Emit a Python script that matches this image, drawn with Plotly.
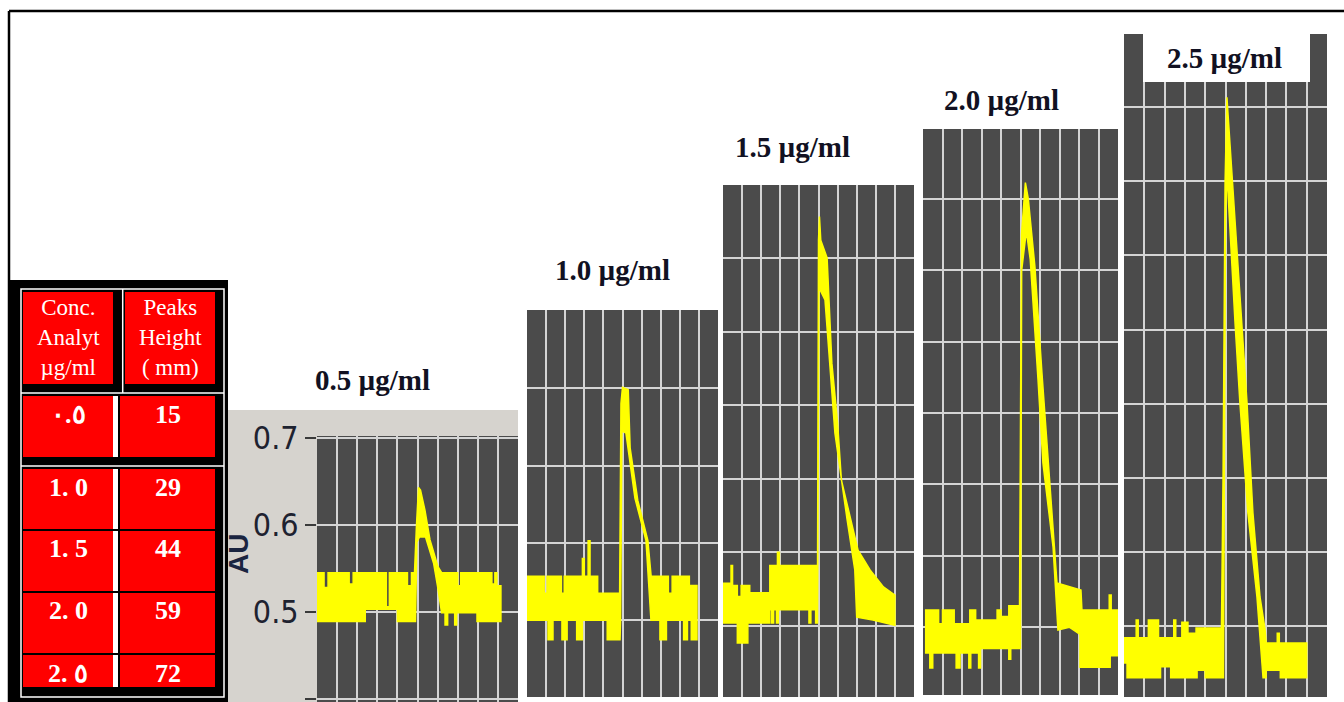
import plotly.graph_objects as go

W, H = 1344, 702

# ---------------- data ----------------
conc_labels = ["٠.٥", "1. 0", "1. 5", "2. 0", "2. ٥"]
peak_heights = [15, 29, 44, 59, 72]
header_left = "Conc.<br>Analyt<br>µg/ml"
header_right = "Peaks<br>Height<br>( mm)"
panel_titles = ["0.5 µg/ml", "1.0 µg/ml", "1.5 µg/ml", "2.0 µg/ml", "2.5 µg/ml"]
au_ticks = [0.4, 0.5, 0.6, 0.7]
au_ticktext = ["0.4", "0.5", "0.6", "0.7"]

# signal envelopes: (time division, AU)
p1_upper = [(0.0, 0.545), (0.35, 0.545), (0.35, 0.528), (0.55, 0.528), (0.55, 0.545), (1.6, 0.545), (1.6, 0.532),
            (1.8, 0.532), (1.8, 0.545), (3.45, 0.545), (3.45, 0.506), (3.6, 0.506), (3.6, 0.545), (4.5, 0.545),
            (4.5, 0.53), (4.7, 0.53), (4.7, 0.545), (4.85, 0.545), (4.95, 0.6), (5.05, 0.643), (5.15, 0.64),
            (5.37, 0.617), (5.62, 0.583), (6.02, 0.552), (6.2, 0.545), (7.0, 0.545), (7.0, 0.53), (7.15, 0.53),
            (7.15, 0.545), (8.7, 0.545), (8.7, 0.532), (8.85, 0.532), (8.85, 0.545), (8.95, 0.545), (8.95, 0.53),
            (9.15, 0.53)]
p1_lower = [(0.0, 0.489), (2.4, 0.489), (2.4, 0.503), (4.0, 0.503), (4.0, 0.489), (4.9, 0.489), (4.97, 0.58),
            (5.1, 0.586), (5.4, 0.586), (5.8, 0.556), (6.0, 0.529), (6.2, 0.499), (6.37, 0.499), (6.37, 0.485),
            (6.5, 0.485), (6.5, 0.499), (6.85, 0.499), (6.85, 0.485), (6.95, 0.485), (6.95, 0.499), (7.96, 0.499),
            (7.96, 0.489), (9.15, 0.489)]

p2_upper = [(0.0, 0.557), (0.9, 0.557), (0.9, 0.535), (1.05, 0.535), (1.05, 0.557), (1.8, 0.557), (1.8, 0.535),
            (1.95, 0.535), (1.95, 0.557), (2.9, 0.557), (2.9, 0.58), (3.0, 0.58), (3.0, 0.557), (3.2, 0.557),
            (3.2, 0.603), (3.3, 0.603), (3.3, 0.557), (3.7, 0.557), (3.7, 0.535), (4.85, 0.535), (4.92, 0.78),
            (5.0, 0.801), (5.3, 0.798), (5.4, 0.723), (5.8, 0.655), (6.33, 0.603), (6.5, 0.557), (7.4, 0.557),
            (7.4, 0.535), (7.6, 0.535), (7.6, 0.557), (8.5, 0.557), (8.5, 0.545), (8.9, 0.545)]
p2_lower = [(0.0, 0.5), (1.1, 0.5), (1.1, 0.475), (1.36, 0.475), (1.36, 0.5), (1.83, 0.5), (1.83, 0.475),
            (2.1, 0.475), (2.1, 0.5), (2.6, 0.5), (2.6, 0.475), (2.9, 0.475), (2.9, 0.5), (4.2, 0.5), (4.2, 0.475),
            (4.87, 0.475), (4.9, 0.5), (4.97, 0.745), (5.18, 0.742), (5.65, 0.658), (6.23, 0.603), (6.49, 0.5),
            (6.96, 0.5), (6.96, 0.475), (7.3, 0.475), (7.3, 0.5), (8.2, 0.5), (8.2, 0.475), (8.4, 0.475),
            (8.4, 0.5), (8.6, 0.5), (8.6, 0.475), (8.9, 0.475)]

p3_upper = [(0.0, 0.558), (0.42, 0.558), (0.42, 0.582), (0.5, 0.582), (0.5, 0.555), (0.75, 0.555), (0.75, 0.54),
            (0.95, 0.54), (0.95, 0.555), (1.4, 0.555), (1.4, 0.545), (2.45, 0.545), (2.45, 0.582), (2.85, 0.582),
            (2.85, 0.6), (2.95, 0.6), (2.95, 0.582), (4.95, 0.582), (5.0, 1.024), (5.05, 1.056), (5.12, 1.024),
            (5.45, 1.0), (5.7, 0.857), (6.0, 0.776), (6.2, 0.698), (7.07, 0.603), (7.7, 0.576), (8.4, 0.553),
            (9.0, 0.542)]
p3_lower = [(0.0, 0.504), (0.75, 0.504), (0.75, 0.477), (1.3, 0.477), (1.3, 0.504), (2.45, 0.504), (2.45, 0.522),
            (2.55, 0.522), (2.55, 0.504), (2.65, 0.504), (2.65, 0.522), (2.8, 0.522), (2.8, 0.504), (2.9, 0.504),
            (2.9, 0.522), (4.5, 0.522), (4.5, 0.504), (4.6, 0.504), (4.6, 0.522), (4.85, 0.522), (4.85, 0.504),
            (4.95, 0.504), (5.02, 0.96), (5.34, 0.943), (5.86, 0.762), (6.5, 0.644), (6.9, 0.576), (7.0, 0.512),
            (7.85, 0.508), (9.0, 0.501)]

p4_upper = [(0.1, 0.524), (0.8, 0.524), (0.8, 0.505), (1.0, 0.505), (1.0, 0.524), (1.6, 0.524), (1.6, 0.505),
            (2.4, 0.505), (2.4, 0.524), (2.7, 0.524), (2.7, 0.51), (3.8, 0.51), (3.8, 0.524), (4.0, 0.524),
            (4.0, 0.515), (4.4, 0.515), (4.4, 0.53), (4.95, 0.53), (5.05, 1.05), (5.25, 1.123), (5.4, 1.1),
            (5.74, 1.005), (6.1, 0.856), (6.36, 0.752), (6.6, 0.66), (6.87, 0.562), (8.1, 0.552), (8.15, 0.524),
            (9.55, 0.524), (9.55, 0.545), (9.65, 0.545), (9.65, 0.524), (10.0, 0.524)]
p4_lower = [(0.1, 0.464), (0.35, 0.464), (0.35, 0.443), (0.5, 0.443), (0.5, 0.464), (1.7, 0.464), (1.7, 0.443),
            (1.9, 0.443), (1.9, 0.464), (2.35, 0.464), (2.35, 0.443), (2.45, 0.443), (2.45, 0.464), (2.85, 0.464),
            (2.85, 0.443), (2.95, 0.443), (2.95, 0.47), (4.4, 0.47), (4.4, 0.455), (4.5, 0.455), (4.5, 0.47),
            (5.0, 0.47), (5.06, 1.0), (5.3, 1.055), (5.5, 1.015), (5.9, 0.846), (6.15, 0.73), (6.67, 0.612),
            (6.92, 0.496), (7.5, 0.5), (8.05, 0.49), (8.05, 0.444), (9.6, 0.444), (9.6, 0.46), (10.0, 0.46)]

p5_upper = [(0.0, 0.484), (0.6, 0.484), (0.6, 0.508), (0.7, 0.508), (0.7, 0.484), (1.2, 0.484), (1.2, 0.508),
            (1.7, 0.508), (1.7, 0.484), (2.45, 0.484), (2.45, 0.508), (2.55, 0.508), (2.55, 0.484), (2.85, 0.484),
            (2.85, 0.505), (3.15, 0.505), (3.15, 0.49), (3.55, 0.49), (3.55, 0.497), (4.8, 0.497), (4.88, 0.7),
            (4.98, 1.1), (5.07, 1.2135), (5.32, 1.112), (5.81, 0.909), (6.06, 0.801), (6.35, 0.653), (6.7, 0.539),
            (6.95, 0.495), (7.0, 0.477), (7.55, 0.477), (7.55, 0.49), (7.65, 0.49), (7.65, 0.477), (9.0, 0.477)]
p5_lower = [(0.0, 0.45), (0.15, 0.45), (0.15, 0.43), (1.8, 0.43), (1.8, 0.445), (2.3, 0.445), (2.3, 0.43),
            (3.6, 0.43), (3.6, 0.44), (4.0, 0.44), (4.0, 0.43), (4.9, 0.43), (5.0, 1.05), (5.07, 1.112),
            (5.47, 0.909), (5.71, 0.801), (6.1, 0.653), (6.55, 0.539), (6.85, 0.43), (7.0, 0.43), (7.0, 0.44),
            (7.7, 0.44), (7.7, 0.43), (9.0, 0.43)]

signals = [(p1_upper, p1_lower), (p2_upper, p2_lower), (p3_upper, p3_lower),
           (p4_upper, p4_lower), (p5_upper, p5_lower)]
y_ranges = [[0.3966, 0.702], [0.401, 0.901], [0.4035, 1.099], [0.405, 1.198], [0.404, 1.299]]

# ---------------- layout (pixel boxes) ----------------
panel_px = [(317, 518, 436, 702), (527, 718, 310, 697), (723, 914, 185, 697),
            (923, 1118, 129, 695), (1124, 1327, 34, 697)]
title_px = [(372, 380), (612, 270), (792, 147), (1001, 100), (1224, 58)]


def fx(x):
    return x / W


def fy(y):
    return 1 - y / H


fig = go.Figure()
layout_axes = {}
for i, ((up, lo), (l, r, t, b), yr) in enumerate(zip(signals, panel_px, y_ranges), start=1):
    xs = [p[0] for p in up] + [p[0] for p in lo[::-1]]
    ys = [p[1] for p in up] + [p[1] for p in lo[::-1]]
    fig.add_trace(go.Scatter(x=xs, y=ys, mode="lines", fill="toself",
                             fillcolor="#ffff00", line=dict(color="#ffff00", width=1.5),
                             xaxis=f"x{i}", yaxis=f"y{i}", showlegend=False, hoverinfo="skip"))
    sfx = "" if i == 1 else str(i)
    layout_axes[f"xaxis{sfx}"] = dict(domain=[fx(l), fx(r)], range=[0, 10], tick0=0, dtick=1,
                                      showgrid=True, gridcolor="#d4d4d4", gridwidth=2,
                                      showticklabels=False, zeroline=False, ticks="",
                                      anchor=f"y{i}", fixedrange=True, automargin=False)
    yax = dict(domain=[fy(b), fy(t)], range=yr, tick0=0.4, dtick=0.1,
               showgrid=True, gridcolor="#d4d4d4", gridwidth=2,
               showticklabels=False, zeroline=False, ticks="",
               anchor=f"x{i}", fixedrange=True, automargin=False)
    if i == 1:
        yax.update(showticklabels=True, tickmode="array", tickvals=au_ticks, ticktext=au_ticktext,
                   ticks="outside", ticklen=11, tickwidth=2, tickcolor="#3a3a3a",
                   tickfont=dict(family="Liberation Sans Narrow, Arial Narrow, DejaVu Sans Condensed, Liberation Sans",
                                 size=32, color="#1e2230"))
    layout_axes[f"yaxis{sfx}"] = yax

shapes = []


def rect(x0, y0, x1, y1, fill=None, line=None, lw=0, layer="above"):
    d = dict(type="rect", xref="paper", yref="paper", x0=fx(x0), x1=fx(x1), y0=fy(y1), y1=fy(y0),
             layer=layer, line=dict(width=lw, color=line if line else "rgba(0,0,0,0)"))
    d["fillcolor"] = fill if fill else "rgba(0,0,0,0)"
    shapes.append(d)


def hline(x0, x1, y, color, w):
    shapes.append(dict(type="line", xref="paper", yref="paper", x0=fx(x0), x1=fx(x1), y0=fy(y), y1=fy(y),
                       line=dict(color=color, width=w)))


def vline(x, y0, y1, color, w):
    shapes.append(dict(type="line", xref="paper", yref="paper", x0=fx(x), x1=fx(x), y0=fy(y0), y1=fy(y1),
                       line=dict(color=color, width=w)))


# outer border (top and left)
hline(9, W, 11, "black", 2.5)
vline(9, 11, H, "black", 2.5)

# light grey frame around first chromatogram (below axis labels)
rect(228, 410, 317, 702, fill="#d6d3ce", layer="below")
rect(317, 410, 518, 436, fill="#d6d3ce", layer="below")

# table
rect(10, 280, 228, 702, fill="black")
rect(21, 289, 224, 697, line="white", lw=1.5)
rect(23, 292, 113, 384, fill="#ff0000")
rect(125, 292, 215, 384, fill="#ff0000")
vline(122.7, 289, 393, "white", 1.5)
hline(21, 224, 393, "white", 1.5)
hline(21, 224, 466, "white", 1.5)
row_px = [(396, 457), (469, 529), (531, 591), (593, 653), (655, 687)]
for (y0, y1) in row_px:
    rect(23, y0, 113, y1, fill="#ff0000")
    rect(113, y0, 118, y1, fill="white")
    rect(120, y0, 215, y1, fill="#ff0000")

# white label box on last panel
rect(1143, 34, 1310, 82, fill="white")

annotations = []
serif = "Liberation Serif, Times New Roman, serif"
annotations.append(dict(x=fx(68), y=fy(338), text=header_left, showarrow=False, xref="paper", yref="paper",
                        font=dict(family=serif, size=23, color="white"), xanchor="center", yanchor="middle"))
annotations.append(dict(x=fx(170), y=fy(338), text=header_right, showarrow=False, xref="paper", yref="paper",
                        font=dict(family=serif, size=23, color="white"), xanchor="center", yanchor="middle"))
row_text_y = [414, 487, 548, 610, 673]
for lab, val, ty in zip(conc_labels, peak_heights, row_text_y):
    annotations.append(dict(x=fx(68), y=fy(ty), text=f"<b>{lab}</b>", showarrow=False, xref="paper",
                            yref="paper", font=dict(family=serif, size=26, color="white"),
                            xanchor="center", yanchor="middle"))
    annotations.append(dict(x=fx(168), y=fy(ty), text=f"<b>{val}</b>", showarrow=False, xref="paper",
                            yref="paper", font=dict(family=serif, size=26, color="white"),
                            xanchor="center", yanchor="middle"))

for txt, (cx, cy) in zip(panel_titles, title_px):
    annotations.append(dict(x=fx(cx), y=fy(cy), text=f"<b>{txt}</b>", showarrow=False, xref="paper",
                            yref="paper", font=dict(family=serif, size=29, color="#111122"),
                            xanchor="center", yanchor="middle"))

annotations.append(dict(x=fx(238), y=fy(554), text="<b>AU</b>", textangle=-90, showarrow=False,
                        xref="paper", yref="paper",
                        font=dict(family="Liberation Sans, Arial, sans-serif", size=28, color="#1a2440"),
                        xanchor="center", yanchor="middle"))

fig.update_layout(width=W, height=H, margin=dict(l=0, r=0, t=0, b=0, autoexpand=False),
                  paper_bgcolor="white", plot_bgcolor="#4b4b4b",
                  shapes=shapes, annotations=annotations, showlegend=False, **layout_axes)

fig.write_html("out.html", config={"displayModeBar": False})
